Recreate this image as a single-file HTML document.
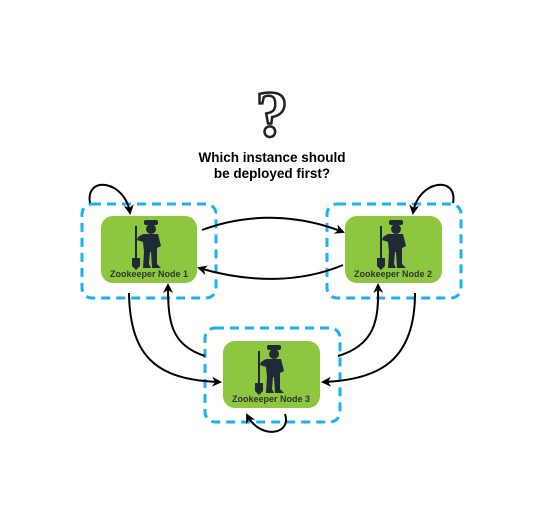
<!DOCTYPE html>
<html><head><style>body{margin:0;background:#fff}svg{display:block}</style></head>
<body>
<svg width="543" height="517" viewBox="0 0 543 517" xmlns="http://www.w3.org/2000/svg" font-family="Liberation Sans, sans-serif">
<defs>
<marker id="a" markerWidth="10" markerHeight="10" refX="8" refY="5" orient="auto" markerUnits="userSpaceOnUse"><path d="M0,0 L10,5 L0,10 L3,5 Z" fill="#000"/></marker>
<g id="man" fill="#1f2a36">
<rect x="-3" y="-22" width="14" height="5" rx="2"/>
<circle cx="4" cy="-13" r="5"/>
<path d="M-4,-8 L11,-8 L14,4 L10,6 L10,10 L-3,10 L-4,0 L-10,-2 L-9,-5 Z"/>
<path d="M-3,10 L3,10 L2,22 L4,26 L-4,26 Z"/>
<path d="M4,10 L10,10 L10,22 L14,26 L5,26 Z"/>
<rect x="-12" y="-16" width="2" height="32"/>
<path d="M-15,16 L-7,16 L-7,24 L-11,28 L-15,24 Z"/>
</g>
</defs>
<!-- question mark -->
<text x="272" y="136" font-size="66" font-family="Liberation Serif, serif" font-weight="bold" fill="none" stroke="#222" stroke-width="2.5" text-anchor="middle">?</text>
<text x="272" y="162" font-size="13.5" font-weight="bold" text-anchor="middle" fill="#000">Which instance should</text>
<text x="272" y="178" font-size="13.5" font-weight="bold" text-anchor="middle" fill="#000">be deployed first?</text>
<!-- dashed boxes -->
<g fill="none" stroke="#1ab2f0" stroke-width="3" stroke-dasharray="9 6">
<rect x="82" y="204" width="134" height="94" rx="10"/>
<rect x="327" y="204" width="134" height="94" rx="10"/>
<rect x="205" y="328" width="135" height="94" rx="10"/>
</g>
<!-- nodes -->
<g fill="#8dc63f">
<rect x="101" y="216" width="96" height="67" rx="12"/>
<rect x="345" y="216" width="97" height="67" rx="12"/>
<rect x="223" y="341" width="97" height="67" rx="12"/>
</g>
<use href="#man" x="147" y="242"/>
<use href="#man" x="392" y="242"/>
<use href="#man" x="270" y="367"/>
<g font-size="9" font-weight="bold" fill="#333" text-anchor="middle">
<text x="149" y="277">Zookeeper Node 1</text>
<text x="393" y="277">Zookeeper Node 2</text>
<text x="271" y="402">Zookeeper Node 3</text>
</g>
<!-- arrows -->
<g fill="none" stroke="#000" stroke-width="2" marker-end="url(#a)">
<path d="M90,203 C85,175 125,180 130,213"/>
<path d="M453,203 C458,175 418,180 413,213"/>
<path d="M202,230 C250,212 300,215 343,232"/>
<path d="M343,265 C300,283 250,283 199,268"/>
<path d="M129,293 C130,360 160,380 220,382"/>
<path d="M205,356 C170,345 168,320 168,285"/>
<path d="M415,293 C415,360 380,380 323,382"/>
<path d="M338,356 C375,345 379,320 378,285"/>
<path d="M285,414 C292,435 260,440 247,415"/>
</g>
</svg>
</body></html>
